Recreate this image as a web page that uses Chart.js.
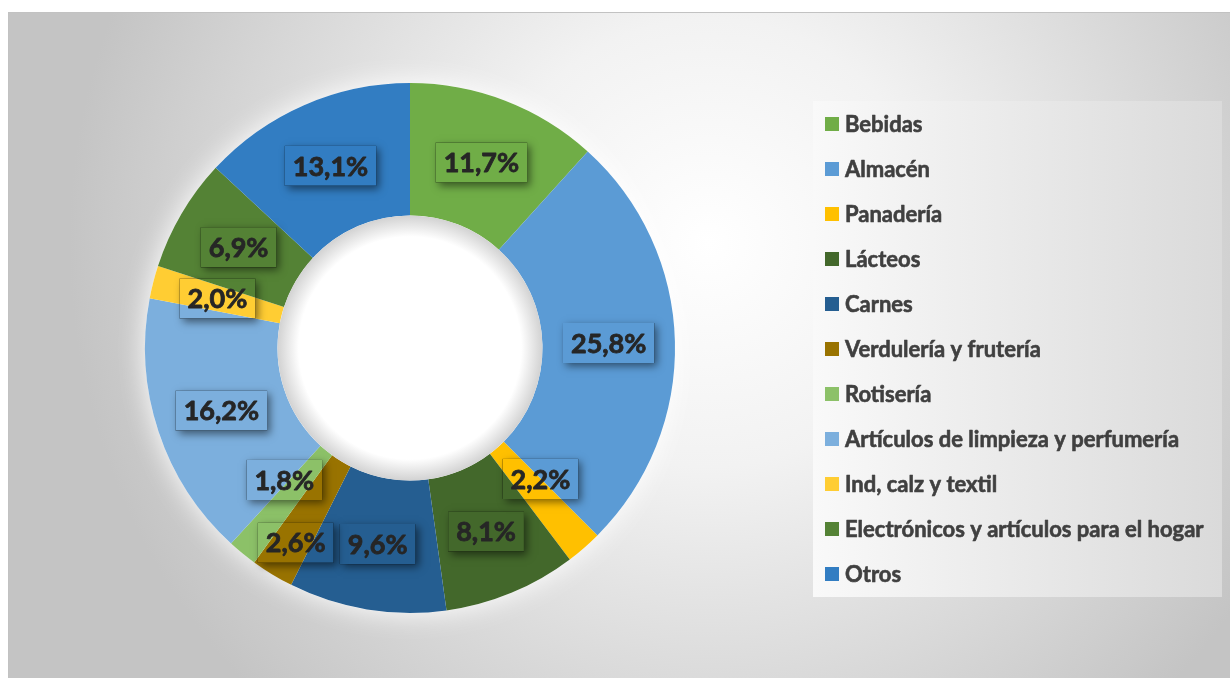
<!DOCTYPE html>
<html>
<head>
<meta charset="utf-8">
<script src="https://cdn.jsdelivr.net/npm/chart.js@4.4.1/dist/chart.umd.min.js"></script>
<style>
  html, body { margin: 0; padding: 0; background: #fff; overflow: hidden; }
  #frame {
    position: absolute; left: 8px; top: 12px; width: 1240px; height: 680px;
    border-left: 1px solid #c2c2c2; border-top: 1px solid #c2c2c2;
    background: radial-gradient(circle 640px at 700px 230px, #ffffff 0%, #f2f2f2 35%, #c4c4c4 100%);
  }
  #chart { position: absolute; left: 0; top: 0; }
</style>
</head>
<body>
<div id="frame"></div>
<canvas id="chart" width="1230" height="678"></canvas>
<script>
const categories = [
    'Bebidas', 'Almacén', 'Panadería', 'Lácteos', 'Carnes', 'Verdulería y frutería',
    'Rotisería', 'Artículos de limpieza y perfumería', 'Ind, calz y textil',
    'Electrónicos y artículos para el hogar', 'Otros'
];
const shares = [11.7, 25.8, 2.2, 8.1, 9.6, 2.6, 1.8, 16.2, 2.0, 6.9, 13.1];
const colors = ['#70AD47', '#5B9BD5', '#FFC000', '#43682B', '#255E91', '#997300',
    '#8CC168', '#7CAFDD', '#FFCD33', '#548235', '#327DC2'];

// small nudges for labels that Excel moved off the ring centre
const labelNudge = { 2: [0, -19], 5: [-11, 25], 6: [0, -22] };

const fmt = v => v.toFixed(1).replace('.', ',') + '%';

const donutDecor = {
    id: 'donutDecor',
    beforeDatasetsDraw(chart) {
        const ctx = chart.ctx;
        const arc = chart.getDatasetMeta(0).data[0];
        ctx.save();
        ctx.shadowColor = 'rgba(255,255,255,1)';
        ctx.shadowBlur = 28;
        ctx.fillStyle = '#ffffff';
        ctx.beginPath();
        ctx.arc(arc.x, arc.y, arc.outerRadius, 0, Math.PI * 2);
        ctx.fill();
        ctx.restore();
    },
    afterDatasetsDraw(chart) {
        const ctx = chart.ctx;
        const meta = chart.getDatasetMeta(0);
        const a0 = meta.data[0];

        // soft inner shading of the hole
        const g = ctx.createRadialGradient(a0.x, a0.y, 0, a0.x, a0.y, a0.innerRadius);
        g.addColorStop(0, '#ffffff');
        g.addColorStop(0.84, '#ffffff');
        g.addColorStop(1, '#d2d2d2');
        ctx.save();
        ctx.fillStyle = g;
        ctx.beginPath();
        ctx.arc(a0.x, a0.y, a0.innerRadius, 0, Math.PI * 2);
        ctx.fill();
        ctx.restore();

        // data labels with a drop shadow box
        ctx.save();
        ctx.font = 'bold 27px Lato';
        ctx.textAlign = 'center';
        ctx.textBaseline = 'middle';
        ctx.lineWidth = 0.8;
        ctx.lineJoin = 'round';
        meta.data.forEach((arc, i) => {
            const p = arc.getCenterPoint();
            const n = labelNudge[i] || [0, 0];
            const cx = p.x + n[0], cy = p.y + n[1];
            const text = fmt(shares[i]);
            const w = ctx.measureText(text).width + 16;
            const h = 40;
            const bx = cx - w / 2, by = cy - h / 2;

            ctx.save();
            ctx.beginPath();
            ctx.rect(0, 0, chart.width, chart.height);
            ctx.rect(bx, by, w, h);
            ctx.clip('evenodd');
            ctx.shadowColor = 'rgba(0,0,0,0.5)';
            ctx.shadowBlur = 8;
            ctx.shadowOffsetX = 3;
            ctx.shadowOffsetY = 3;
            ctx.fillStyle = '#000';
            ctx.fillRect(bx, by, w, h);
            ctx.restore();

            ctx.fillStyle = '#262626';
            ctx.strokeStyle = '#262626';
            ctx.fillText(text, cx, cy + 1);
            ctx.strokeText(text, cx, cy + 1);
        });
        ctx.restore();
    },
    afterDraw(chart) {
        const ctx = chart.ctx;
        const lx = 813, ly = 101, lw = 409, lh = 496;
        ctx.save();
        const lg = ctx.createLinearGradient(lx, 0, lx + lw, 0);
        lg.addColorStop(0, '#f9f9f9');
        lg.addColorStop(1, '#dadada');
        ctx.fillStyle = lg;
        ctx.fillRect(lx, ly, lw, lh);

        ctx.font = 'bold 22px Lato';
        ctx.textBaseline = 'middle';
        ctx.textAlign = 'left';
        ctx.lineWidth = 0.6;
        ctx.lineJoin = 'round';
        chart.data.labels.forEach((label, i) => {
            const y = 124 + i * 45;
            ctx.fillStyle = chart.data.datasets[0].backgroundColor[i];
            ctx.fillRect(825, y - 7, 14, 14);
            ctx.fillStyle = '#404040';
            ctx.strokeStyle = '#404040';
            ctx.fillText(label, 845, y + 1);
            ctx.strokeText(label, 845, y + 1);
        });
        ctx.restore();
    }
};

new Chart(document.getElementById('chart'), {
    type: 'doughnut',
    data: {
        labels: categories,
        datasets: [{
            data: shares,
            backgroundColor: colors,
            borderWidth: 0
        }]
    },
    options: {
        responsive: false,
        animation: false,
        cutout: '50%',
        layout: { padding: { left: 145, right: 555, top: 83, bottom: 65 } },
        plugins: {
            legend: { display: false },
            tooltip: { enabled: false }
        }
    },
    plugins: [donutDecor]
});
</script>
</body>
</html>
